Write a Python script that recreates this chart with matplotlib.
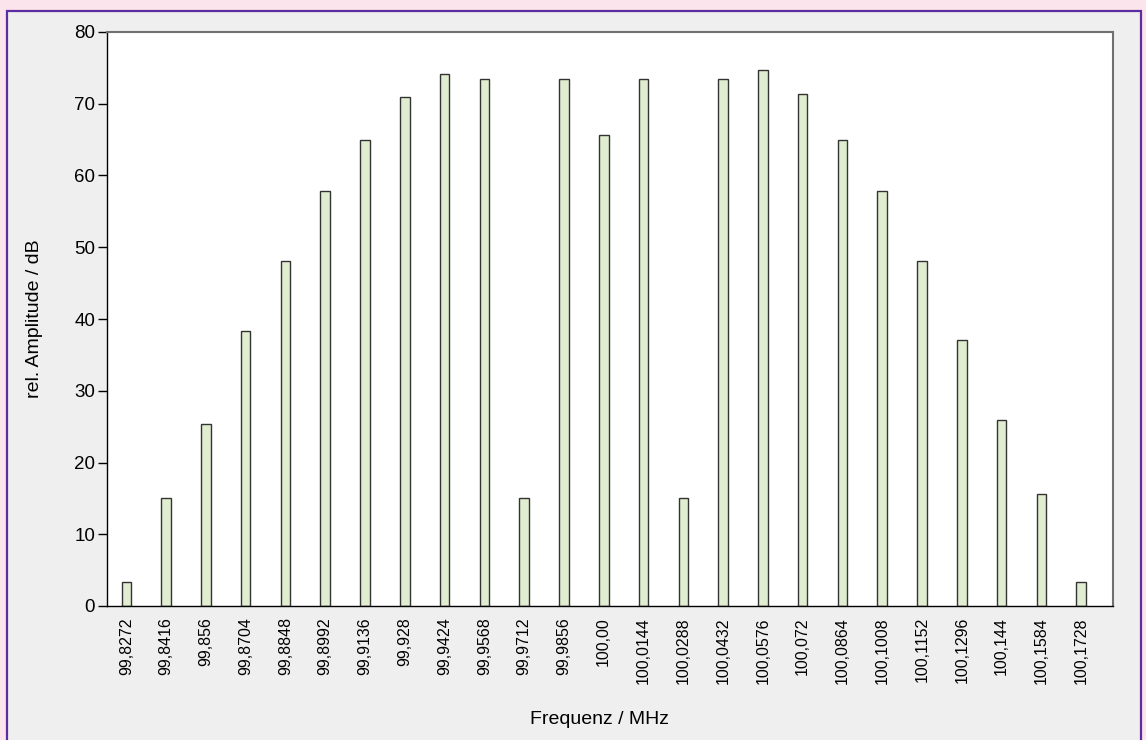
import matplotlib
matplotlib.use("Agg")
import matplotlib.pyplot as plt
from matplotlib.patches import Rectangle

plt.rcParams['font.family'] = ['Liberation Sans', 'DejaVu Sans']

# frequencies (MHz) and relative amplitudes (dB)
freq_labels = ["99,8272", "99,8416", "99,856", "99,8704", "99,8848", "99,8992",
               "99,9136", "99,928", "99,9424", "99,9568", "99,9712", "99,9856",
               "100,00", "100,0144", "100,0288", "100,0432", "100,0576", "100,072",
               "100,0864", "100,1008", "100,1152", "100,1296", "100,144",
               "100,1584", "100,1728"]
amplitude = [3.3, 15.0, 25.4, 38.3, 48.1, 57.8, 65.0, 70.9, 74.1, 73.4, 15.0, 73.4,
             65.6, 73.4, 15.0, 73.4, 74.7, 71.4, 65.0, 57.8, 48.1, 37.1, 25.9,
             15.6, 3.3]
y_ticks = [0, 10, 20, 30, 40, 50, 60, 70, 80]

W, H = 1146, 740
fig = plt.figure(figsize=(W / 100, H / 100), dpi=100)
fig.patch.set_facecolor("#fce4ec")

# grey panel with purple border, drawn below the plot axes
panel = Rectangle((7 / W, -0.02), (1141 - 7) / W, 1 - 11 / H + 0.02,
                  transform=fig.transFigure, facecolor="#efefef",
                  edgecolor="#5b2d9e", linewidth=1.6, zorder=-10)
fig.patches.append(panel)

ax = fig.add_axes([107 / W, 1 - 606 / H, (1113 - 107) / W, (606 - 32) / H])
ax.set_zorder(1)
ax.set_facecolor("white")

x = list(range(len(freq_labels)))
ax.bar(x, amplitude, width=0.24, color="#e0edd0", edgecolor="#333333",
       linewidth=1.0, zorder=2)

ax.set_xlim(-0.485, 24.8)
ax.set_ylim(0, 80)
ax.set_yticks(y_ticks)
ax.set_xticks(x)
ax.set_xticklabels(freq_labels, rotation=90, fontsize=11.5)
ax.tick_params(axis="x", length=0, pad=8)
ax.tick_params(axis="y", length=6.5, width=1, labelsize=13.5, pad=2)

for s in ("left", "bottom"):
    ax.spines[s].set_color("black")
    ax.spines[s].set_linewidth(1.0)
for s in ("top", "right"):
    ax.spines[s].set_color("#707070")
    ax.spines[s].set_linewidth(1.5)

fig.text(35 / W, 1 - 319 / H, "rel. Amplitude / dB", rotation=90,
         ha="center", va="center", fontsize=14)
fig.text(600 / W, 1 - 720 / H, "Frequenz / MHz", ha="center", va="center",
         fontsize=14)

fig.savefig("out.png", dpi=100, facecolor=fig.get_facecolor())
